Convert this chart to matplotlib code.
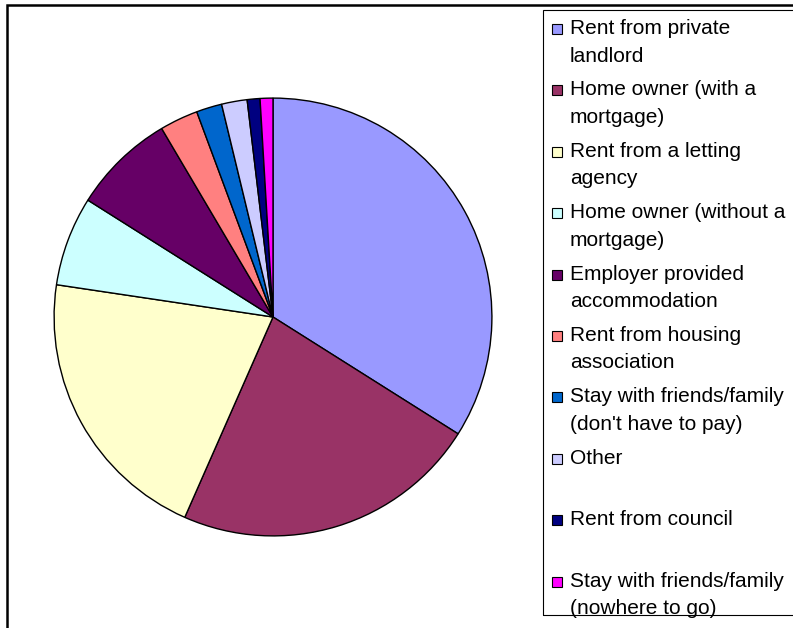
import matplotlib.pyplot as plt
from matplotlib.patches import Rectangle

# housing situation of respondents
labels = [
    "Rent from private\nlandlord",
    "Home owner (with a\nmortgage)",
    "Rent from a letting\nagency",
    "Home owner (without a\nmortgage)",
    "Employer provided\naccommodation",
    "Rent from housing\nassociation",
    "Stay with friends/family\n(don't have to pay)",
    "Other",
    "Rent from council",
    "Stay with friends/family\n(nowhere to go)",
]
counts = [36, 24, 22, 7, 8, 3, 2, 2, 1, 1]
colors = ["#9999FF", "#993366", "#FFFFCC", "#CCFFFF", "#660066",
          "#FF8080", "#0066CC", "#CCCCFF", "#000080", "#FF00FF"]

W, H = 793, 628
plt.rcParams['font.family'] = ['Liberation Sans', 'DejaVu Sans']

fig = plt.figure(figsize=(W / 100, H / 100), dpi=100)


def fx(px):
    return px / W


def fy(py):
    # pixel from top -> figure fraction from bottom
    return 1 - py / H


# outer chart frame (runs off the right and bottom edges)
fig.patches.append(Rectangle((fx(7), fy(H + 20)), fx(W + 20), fy(5) - fy(H + 20),
                             transform=fig.transFigure, fill=False,
                             edgecolor='black', linewidth=1.8))

# pie: centre (273, 317), radius 220 px
cx, cy, r = 273, 317, 220
ax = fig.add_axes([fx(cx - r), fy(cy + r), fx(2 * r), fy(cy - r) - fy(cy + r)])
ax.pie(counts, colors=colors, startangle=90, counterclock=False, radius=1,
       wedgeprops={'edgecolor': 'black', 'linewidth': 1.0})
ax.set_xlim(-1.005, 1.005)
ax.set_ylim(-1.005, 1.005)
ax.set_aspect('equal')
ax.axis('off')

# legend box (runs off the right edge)
fig.patches.append(Rectangle((fx(543), fy(615)), fx(W + 20 - 543), fy(10) - fy(615),
                             transform=fig.transFigure, fill=False,
                             edgecolor='black', linewidth=0.8))

first_base, step, line_h = 34, 61.4, 27.5
for i, (lab, col) in enumerate(zip(labels, colors)):
    base = first_base + i * step
    fig.patches.append(Rectangle((fx(551.5), fy(base)), fx(10), fy(base - 10) - fy(base),
                                 transform=fig.transFigure, facecolor=col,
                                 edgecolor='black', linewidth=0.8))
    # one text per line so the first line sits on the marker's baseline
    for k, line in enumerate(lab.split("\n")):
        fig.text(fx(570), fy(base + k * line_h), line, fontsize=15,
                 va='baseline', ha='left')

fig.savefig("out.png", dpi=100)
